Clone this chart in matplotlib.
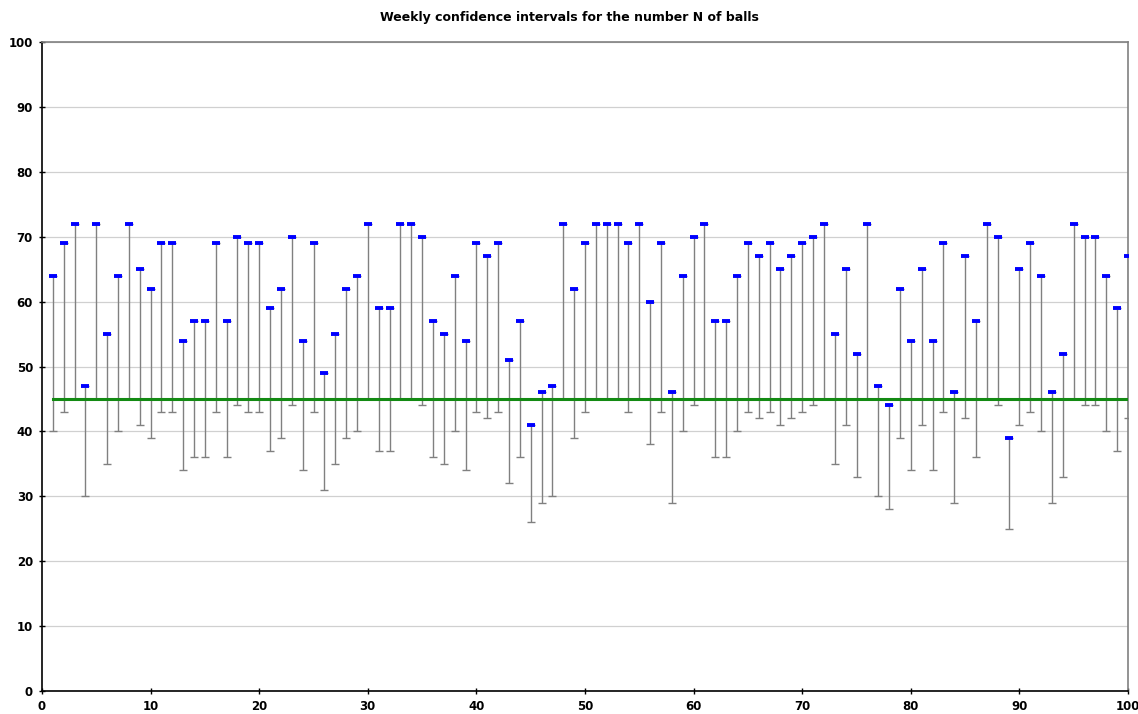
import numpy as np
import matplotlib
matplotlib.use('Agg')
import matplotlib.pyplot as plt

# weeks 1..100
weeks = np.arange(1, 101)

# upper end of each weekly interval (blue marks)
upper = [64, 69, 72, 47, 72, 55, 64, 72, 65, 62,
         69, 69, 54, 57, 57, 69, 57, 70, 69, 69,
         59, 62, 70, 54, 69, 49, 55, 62, 64, 72,
         59, 59, 72, 72, 70, 57, 55, 64, 54, 69,
         67, 69, 51, 57, 41, 46, 47, 72, 62, 69,
         72, 72, 72, 69, 72, 60, 69, 46, 64, 70,
         72, 57, 57, 64, 69, 67, 69, 65, 67, 69,
         70, 72, 55, 65, 52, 72, 47, 44, 62, 54,
         65, 54, 69, 46, 67, 57, 72, 70, 39, 65,
         69, 64, 46, 52, 72, 70, 70, 64, 59, 67]

# lower end of each weekly interval
lower = [40, 43, 45, 30, 45, 35, 40, 45, 41, 39,
         43, 43, 34, 36, 36, 43, 36, 44, 43, 43,
         37, 39, 44, 34, 43, 31, 35, 39, 40, 45,
         37, 37, 45, 45, 44, 36, 35, 40, 34, 43,
         42, 43, 32, 36, 26, 29, 30, 45, 39, 43,
         45, 45, 45, 43, 45, 38, 43, 29, 40, 44,
         45, 36, 36, 40, 43, 42, 43, 41, 42, 43,
         44, 45, 35, 41, 33, 45, 30, 28, 39, 34,
         41, 34, 43, 29, 42, 36, 45, 44, 25, 41,
         43, 40, 29, 33, 45, 44, 44, 40, 37, 42]

true_n = 45

upper = np.array(upper)
lower = np.array(lower)

fig = plt.figure(figsize=(11.38, 7.14), dpi=100)
ax = fig.add_axes([42/1138, 1 - 691/714, (1128 - 42)/1138, (691 - 42)/714])

# gridlines
ax.set_axisbelow(True)
ax.yaxis.grid(True, color='#d0d0d0', lw=0.9)

# interval bars with cap at the lower end
ax.errorbar(weeks, upper, yerr=[upper - lower, np.zeros_like(upper)],
            fmt='none', ecolor='#808080', elinewidth=1.0, capsize=2.8,
            capthick=1.0, zorder=2)

# true value line
ax.plot([1, 100], [true_n, true_n], color='#138a13', lw=2.2, zorder=3)

# point marks
ax.plot(weeks, upper, ls='none', marker='_', ms=6, mew=2.8,
        color='#0000ff', zorder=4)

ax.set_xlim(0, 100)
ax.set_ylim(0, 100)
ax.set_xticks(np.arange(0, 101, 10))
ax.set_yticks(np.arange(0, 101, 10))
ax.tick_params(direction='inout', length=5, width=1, labelsize=8.5, pad=4)
for lab in ax.get_xticklabels() + ax.get_yticklabels():
    lab.set_fontweight('bold')

for side in ['top', 'right']:
    ax.spines[side].set_color('#808080')
    ax.spines[side].set_linewidth(1.2)
for side in ['left', 'bottom']:
    ax.spines[side].set_color('black')
    ax.spines[side].set_linewidth(1.2)

fig.text(0.5, 1 - 18/714, 'Weekly confidence intervals for the number N of balls',
         ha='center', va='center', fontsize=9, fontweight='bold')

fig.savefig('out.png', dpi=100)
